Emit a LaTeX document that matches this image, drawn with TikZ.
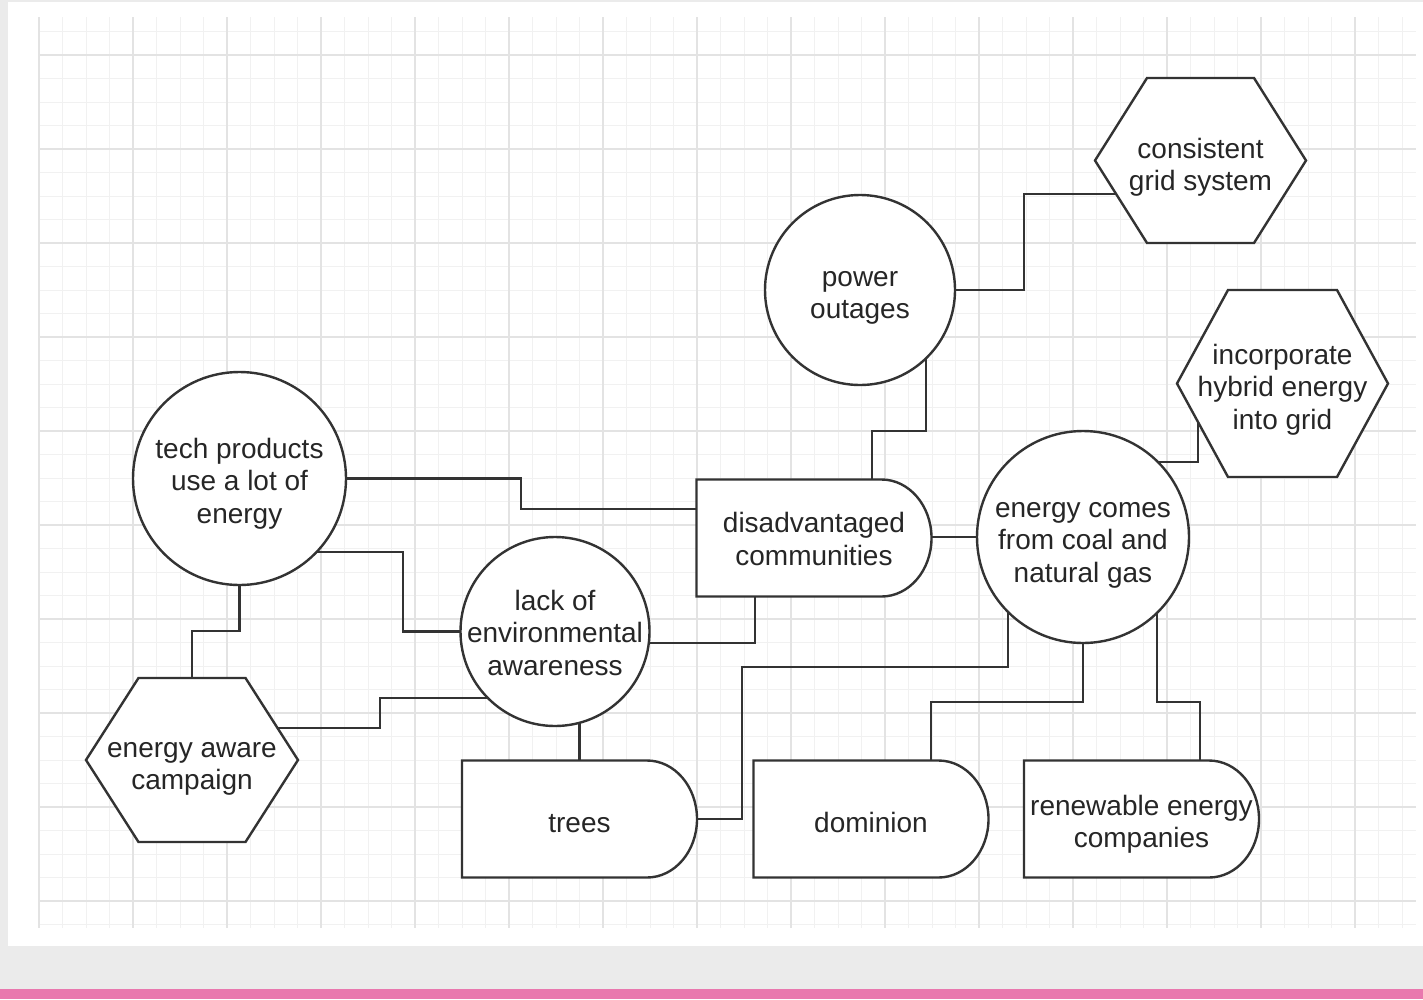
\documentclass[tikz,border=0pt]{standalone}
\usepackage{fontspec}
\setmainfont{Liberation Sans}
\usetikzlibrary{calc}
\pgfdeclarelayer{gridlayer}
\pgfdeclarelayer{connlayer}
\pgfsetlayers{gridlayer,connlayer,main}

\definecolor{pagegray}{HTML}{EBEBEB}
\definecolor{pinkbar}{HTML}{E978AE}
\definecolor{gridminor}{HTML}{F1F1F1}
\definecolor{gridmajor}{HTML}{E3E3E3}
\definecolor{inkline}{HTML}{333333}
\definecolor{inktext}{HTML}{262626}

\tikzset{
  shapeline/.style={draw=inkline, line width=2.4pt, fill=white, line join=miter},
  conn/.style={draw=inkline, line width=2.4pt, line join=miter},
  ring/.style={circle, draw=inkline, line width=2.4pt, fill=white, inner sep=0pt},
  lbl/.style={font=\fontsize{28pt}{32.5pt}\selectfont, text=inktext, align=center, inner sep=0pt},
}

% delay-style box: centre x, centre y
\newcommand{\delayshape}[2]{%
  \draw[shapeline] (#1-117.5,#2-58.5) -- (#1+67.5,#2-58.5)
    arc[start angle=90, end angle=-90, x radius=50pt, y radius=58.5pt]
    -- (#1-117.5,#2+58.5) -- cycle;}
% hexagon: centre x, centre y, half width, half height, inset
\newcommand{\hexshape}[5]{%
  \draw[shapeline] (#1-#3,#2) -- (#1-#3+#5,#2-#4) -- (#1+#3-#5,#2-#4)
    -- (#1+#3,#2) -- (#1+#3-#5,#2+#4) -- (#1-#3+#5,#2+#4) -- cycle;}

\begin{document}
\begin{tikzpicture}[x=1pt,y=-1pt]
\useasboundingbox (0,0) rectangle (1423,999);

% ---------- background and grid ----------
\begin{pgfonlayer}{gridlayer}
  \fill[pagegray] (0,0) rectangle (1423,999);
  \fill[white] (8,2) rectangle (1423,946);
  \fill[pinkbar] (0,989) rectangle (1423,999);
  \begin{scope}
    \clip (38,17) rectangle (1416,928);
    \foreach \i in {0,...,58} \draw[gridminor, line width=1pt] (39+23.5*\i,17) -- (39+23.5*\i,928);
    \foreach \i in {0,...,38} \draw[gridminor, line width=1pt] (38,31.5+23.5*\i) -- (1416,31.5+23.5*\i);
    \foreach \i in {0,...,14} \draw[gridmajor, line width=1.6pt] (39+94*\i,17) -- (39+94*\i,928);
    \foreach \i in {0,...,9} \draw[gridmajor, line width=1.6pt] (38,55+94*\i) -- (1416,55+94*\i);
  \end{scope}
\end{pgfonlayer}

% ---------- circles ----------
\node[ring, minimum size=213pt] (tech) at (239.5,478.5) {};
\node[lbl] (techtxt) at ([yshift=-5pt]tech.center) {tech products\\use a lot of\\energy};
\node[ring, minimum size=189pt] (lack) at (555,631.5) {};
\node[lbl] (lacktxt) at ([yshift=-1pt]lack.center) {lack of\\environmental\\awareness};
\node[ring, minimum size=190pt] (po) at (860,290) {};
\node[lbl] (potxt) at ([yshift=-8pt]po.center) {power\\outages};
\node[ring, minimum size=212pt] (coal) at (1083,537) {};
\node[lbl] (coaltxt) at ([yshift=-8pt]coal.center) {energy comes\\from coal and\\natural gas};

% ---------- hexagons ----------
\hexshape{192}{760}{106}{82}{52.5}
\node[lbl] (eac) at (192,769) {energy aware\\campaign};
\hexshape{1200.5}{160.5}{105.5}{82.5}{52}
\node[lbl] (cg) at (1200.5,167.5) {consistent\\grid system};
\hexshape{1282.5}{383.5}{105.5}{93.5}{51}
\node[lbl] (ihe) at (1282.5,389.5) {incorporate\\hybrid energy\\into grid};

% ---------- delay boxes ----------
\delayshape{814}{538}
\node[lbl] (dis) at (814,539) {disadvantaged\\communities};
\delayshape{579.5}{819}
\node[lbl] (trees) at (579.5,824) {trees};
\delayshape{871}{819}
\node[lbl] (dom) at (871,822) {dominion};
\delayshape{1141.5}{819}
\node[lbl] (ren) at (1141.5,824) {renewable energy\\companies};

% ---------- connectors ----------
\begin{pgfonlayer}{connlayer}
  \coordinate (a1) at (521,509);
  \draw[conn] (tech.center) -| (a1) -- (a1 -| dis.center);
  \coordinate (b1) at (403,552);
  \draw[conn] (tech.center |- b1) -- (b1) |- (lack.center);
  \coordinate (c1) at (192,631);
  \draw[conn] (tech.center) |- (c1) -- (eac.center);
  \coordinate (d1) at (380,728);
  \coordinate (d2) at (380,698);
  \draw[conn] (eac.center |- d1) -- (d1) -- (d2) -- (d2 -| lack.center);
  \coordinate (e1) at (755,643);
  \draw[conn] (lack.center |- e1) -- (e1) -- (e1 |- dis.center);
  \draw[conn] (trees.center) -- (trees.center |- lack.center);
  \coordinate (g0) at (579.5,819);
  \coordinate (g1) at (742,667);
  \coordinate (g2) at (1008,667);
  \draw[conn] (g0) -| (g1) -- (g2) -- (g2 |- coal.center);
  \coordinate (h1) at (872,431);
  \coordinate (h2) at (926,431);
  \draw[conn] (h1 |- dis.center) -- (h1) -- (h2) -- (h2 |- po.center);
  \coordinate (i1) at (1024,194);
  \draw[conn] (po.center) -| (i1) -- (i1 -| cg.center);
  \draw[conn] (dis.center |- coal.center) -- (coal.center);
  \coordinate (k1) at (1198,462);
  \draw[conn] (coal.center |- k1) -- (k1) -- (k1 |- ihe.center);
  \coordinate (l1) at (931,702);
  \draw[conn] (coal.center) |- (l1) -- (l1 |- dom.center);
  \coordinate (m1) at (1157,702);
  \coordinate (m2) at (1200,702);
  \draw[conn] (m1 |- coal.center) -- (m1) -- (m2) -- (m2 |- ren.center);
\end{pgfonlayer}
\end{tikzpicture}
\end{document}
